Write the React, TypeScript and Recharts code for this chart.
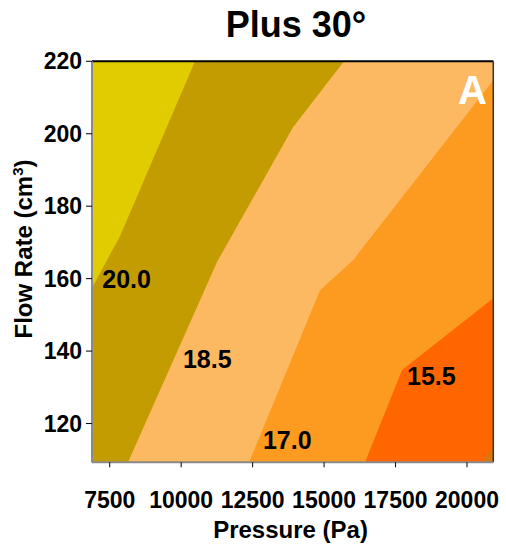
import React from 'react';
import { ComposedChart, Area, XAxis, YAxis, ReferenceDot, ReferenceLine } from 'recharts';

const FONT = '"Liberation Sans", Arial, Helvetica, sans-serif';

// axes
const pressureDomain: [number, number] = [6880, 20920];
const flowDomain: [number, number] = [109.3, 220];
const pressureTicks = [7500, 10000, 12500, 15000, 17500, 20000];
const flowTicks = [120, 140, 160, 180, 200, 220];

// contour edges: pressure (Pa) of each level line at a given flow rate
const fullPlot = [
  { flow: 109.3, p: 20920 },
  { flow: 220, p: 20920 },
];
const edge14 = [
  { flow: 109.3, p: 20526 },
  { flow: 111.3, p: 20701 },
  { flow: 113.2, p: 20920 },
  { flow: 220, p: 20920 },
];
const edge155 = [
  { flow: 109.3, p: 16432 },
  { flow: 134.8, p: 17727 },
  { flow: 154.6, p: 20920 },
  { flow: 220, p: 20920 },
];
const edge17 = [
  { flow: 109.3, p: 12374 },
  { flow: 156.8, p: 14858 },
  { flow: 165.1, p: 16012 },
  { flow: 214.8, p: 20920 },
  { flow: 220, p: 20920 },
];
const edge185 = [
  { flow: 109.3, p: 8140 },
  { flow: 164.6, p: 11254 },
  { flow: 201.8, p: 13913 },
  { flow: 220, p: 15697 },
];
const edge20 = [
  { flow: 109.3, p: 6880 },
  { flow: 157.4, p: 6880 },
  { flow: 171.7, p: 7860 },
  { flow: 220, p: 10484 },
];

const bands = [
  { key: 'lt14', data: fullPlot, color: '#d8780f' },
  { key: 'b14', data: edge14, color: '#ff6600' },
  { key: 'b155', data: edge155, color: '#fc9b20' },
  { key: 'b17', data: edge17, color: '#fdb862' },
  { key: 'b185', data: edge185, color: '#c29c00' },
  { key: 'b20', data: edge20, color: '#e0cc00' },
];

const contourLabels = [
  { text: '20.0', p: 8090, flow: 159.9 },
  { text: '18.5', p: 10911, flow: 137.7 },
  { text: '17.0', p: 13710, flow: 115.5 },
  { text: '15.5', p: 18752, flow: 133.1 },
];
const panelLetter = { text: 'A', p: 20194, flow: 212 };

const W = 506;
const H = 544;
const PLOT = { left: 92, right: 493.3, top: 61.3, bottom: 462.3 };
const Y_AXIS_W = 60;
const X_AXIS_H = 50;
const margin = {
  top: PLOT.top,
  right: W - PLOT.right,
  bottom: H - PLOT.bottom - X_AXIS_H,
  left: PLOT.left - Y_AXIS_W,
};

const tickStyle = { fill: '#000', fontSize: 23, fontWeight: 'bold', fontFamily: FONT };

export default function App() {
  return (
    <div style={{ position: 'absolute', left: 0, top: 0, width: W, height: H, background: '#fff' }}>
      <ComposedChart width={W} height={H} layout="vertical" margin={margin}>
        <XAxis
          type="number"
          domain={pressureDomain}
          allowDataOverflow
          ticks={pressureTicks}
          interval={0}
          height={X_AXIS_H}
          tickSize={5}
          tickMargin={24}
          tick={tickStyle}
          axisLine={{ stroke: '#8a8a8a', strokeWidth: 2 }}
          tickLine={{ stroke: '#000' }}
        />
        <YAxis
          type="number"
          dataKey="flow"
          reversed
          domain={flowDomain}
          allowDataOverflow
          ticks={flowTicks}
          interval={0}
          width={Y_AXIS_W}
          tickSize={6}
          tickMargin={4}
          tick={tickStyle}
          axisLine={{ stroke: '#8a8a8a', strokeWidth: 2 }}
          tickLine={{ stroke: '#000' }}
        />
        {bands.map((b) => (
          <Area
            key={b.key}
            data={b.data}
            dataKey="p"
            type="linear"
            stroke="none"
            fill={b.color}
            fillOpacity={1}
            isAnimationActive={false}
            dot={false}
            activeDot={false}
          />
        ))}
        <ReferenceLine y={flowDomain[1]} stroke="#000" strokeWidth={2} />
        <ReferenceLine x={pressureDomain[1]} stroke="#333" strokeWidth={1.5} />
        {contourLabels.map((c) => (
          <ReferenceDot
            key={c.text}
            x={c.p}
            y={c.flow}
            r={0}
            fill="none"
            stroke="none"
            label={{
              value: c.text,
              position: 'center',
              fill: '#000',
              fontSize: 25,
              fontWeight: 'bold',
              fontFamily: FONT,
            }}
          />
        ))}
        <ReferenceDot
          x={panelLetter.p}
          y={panelLetter.flow}
          r={0}
          fill="none"
          stroke="none"
          label={{
            value: panelLetter.text,
            position: 'center',
            fill: '#fff',
            fontSize: 40,
            fontWeight: 'bold',
            fontFamily: FONT,
          }}
        />
      </ComposedChart>
      <svg
        width={W}
        height={H}
        style={{ position: 'absolute', left: 0, top: 0, pointerEvents: 'none' }}
      >
        <text x={296} y={37} textAnchor="middle" fontSize={36} fontWeight="bold" fontFamily={FONT} fill="#000">
          Plus 30°
        </text>
        <text x={290.5} y={538} textAnchor="middle" fontSize={24} fontWeight="bold" fontFamily={FONT} fill="#000">
          Pressure (Pa)
        </text>
        <text
          x={32}
          y={249}
          textAnchor="middle"
          fontSize={24}
          fontWeight="bold"
          fontFamily={FONT}
          fill="#000"
          transform="rotate(-90 32 249)"
        >
          Flow Rate (cm<tspan dy={-9} fontSize={15}>3</tspan>
          <tspan dy={9}>)</tspan>
        </text>
      </svg>
    </div>
  );
}
